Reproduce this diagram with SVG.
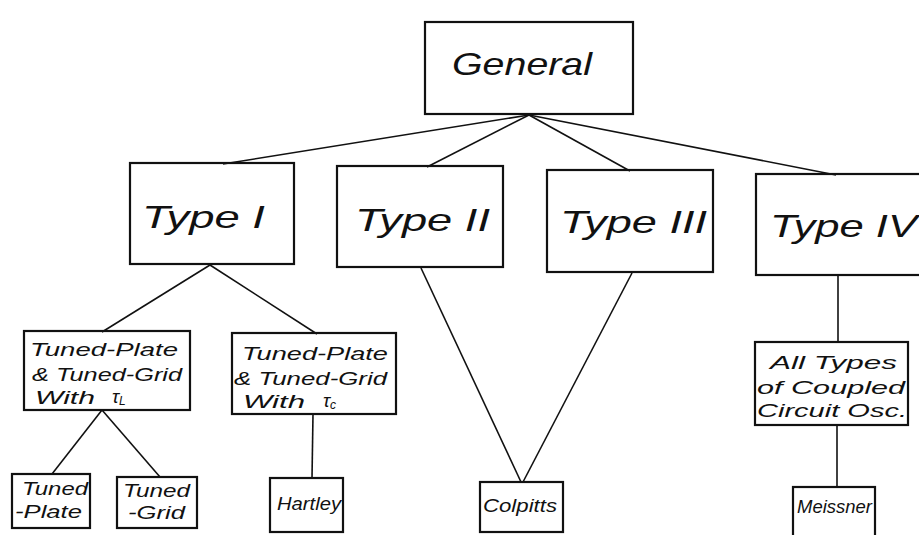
<svg xmlns="http://www.w3.org/2000/svg" width="919" height="535" viewBox="0 0 919 535">
<style>
.bx{fill:none;stroke:#111;stroke-width:2.2}
.ln{fill:none;stroke:#111;stroke-width:1.6}
.t{font-family:"Liberation Sans",Arial,sans-serif;font-style:italic;fill:#111}
.big{font-size:32px}
.md{font-size:19px}
.sm{font-size:18px}
.sub{font-size:12px}
</style>
<rect width="919" height="535" fill="#fff"/>
<g id="connectors">
<line class="ln" x1="529" y1="115" x2="223" y2="164"/>
<line class="ln" x1="529" y1="115" x2="427" y2="167"/>
<line class="ln" x1="529" y1="115" x2="630" y2="171"/>
<line class="ln" x1="529" y1="115" x2="836" y2="175"/>
<line class="ln" x1="210" y1="265" x2="102" y2="332"/>
<line class="ln" x1="210" y1="265" x2="317" y2="334"/>
<line class="ln" x1="421" y1="268" x2="521" y2="482"/>
<line class="ln" x1="632" y1="273" x2="523" y2="482"/>
<line class="ln" x1="838" y1="276" x2="838" y2="342"/>
<line class="ln" x1="102" y1="410" x2="52" y2="474"/>
<line class="ln" x1="102" y1="410" x2="160" y2="477"/>
<line class="ln" x1="313" y1="414" x2="312" y2="478"/>
<line class="ln" x1="837" y1="425" x2="837" y2="487"/>
</g>
<g id="general">
<rect class="bx" x="425" y="22" width="208" height="92"/>
<text class="t big" x="452" y="75" textLength="140" lengthAdjust="spacingAndGlyphs">General</text>
</g>
<g id="type1">
<rect class="bx" x="130" y="163" width="164" height="101"/>
<text class="t big" x="142" y="228" textLength="123" lengthAdjust="spacingAndGlyphs">Type I</text>
</g>
<g id="type2">
<rect class="bx" x="337" y="166" width="166" height="101"/>
<text class="t big" x="355" y="231" textLength="135" lengthAdjust="spacingAndGlyphs">Type II</text>
</g>
<g id="type3">
<rect class="bx" x="547" y="170" width="166" height="102"/>
<text class="t big" x="560" y="233" textLength="147" lengthAdjust="spacingAndGlyphs">Type III</text>
</g>
<g id="type4">
<rect class="bx" x="756" y="174" width="172" height="101"/>
<text class="t big" x="770" y="237" textLength="147" lengthAdjust="spacingAndGlyphs">Type IV</text>
</g>
<g id="tptg-l">
<rect class="bx" x="24" y="331" width="166" height="79"/>
<text class="t md" x="30" y="356" textLength="148" lengthAdjust="spacingAndGlyphs">Tuned-Plate</text>
<text class="t md" x="32" y="381" textLength="150" lengthAdjust="spacingAndGlyphs">&amp; Tuned-Grid</text>
<text class="t md" x="35" y="404" textLength="60" lengthAdjust="spacingAndGlyphs">With</text>
<text class="t md" x="112" y="403">τ<tspan class="sub" dy="2">L</tspan></text>
</g>
<g id="tptg-c">
<rect class="bx" x="232" y="333" width="164" height="81"/>
<text class="t md" x="242" y="360" textLength="146" lengthAdjust="spacingAndGlyphs">Tuned-Plate</text>
<text class="t md" x="234" y="385" textLength="153" lengthAdjust="spacingAndGlyphs">&amp; Tuned-Grid</text>
<text class="t md" x="243" y="408" textLength="62" lengthAdjust="spacingAndGlyphs">With</text>
<text class="t md" x="323" y="407">τ<tspan class="sub" dy="2">c</tspan></text>
</g>
<g id="tuned-plate">
<rect class="bx" x="12" y="474" width="78" height="54"/>
<text class="t sm" x="22" y="495" textLength="66" lengthAdjust="spacingAndGlyphs">Tuned</text>
<text class="t sm" x="15" y="518" textLength="67" lengthAdjust="spacingAndGlyphs">-Plate</text>
</g>
<g id="tuned-grid">
<rect class="bx" x="117" y="477" width="80" height="51"/>
<text class="t sm" x="123" y="497" textLength="67" lengthAdjust="spacingAndGlyphs">Tuned</text>
<text class="t sm" x="128" y="519" textLength="57" lengthAdjust="spacingAndGlyphs">-Grid</text>
</g>
<g id="hartley">
<rect class="bx" x="270" y="478" width="73" height="54"/>
<text class="t sm" x="277" y="510" textLength="64" lengthAdjust="spacingAndGlyphs">Hartley</text>
</g>
<g id="colpitts">
<rect class="bx" x="480" y="482" width="83" height="50"/>
<text class="t sm" x="483" y="512" textLength="74" lengthAdjust="spacingAndGlyphs">Colpitts</text>
</g>
<g id="coupled">
<rect class="bx" x="755" y="342" width="153" height="83"/>
<text class="t md" x="770" y="369" textLength="127" lengthAdjust="spacingAndGlyphs">All Types</text>
<text class="t md" x="757" y="394" textLength="148" lengthAdjust="spacingAndGlyphs">of Coupled</text>
<text class="t md" x="757" y="417" textLength="150" lengthAdjust="spacingAndGlyphs">Circuit Osc.</text>
</g>
<g id="meissner">
<rect class="bx" x="793" y="487" width="82" height="60"/>
<text class="t sm" x="797" y="513" textLength="75" lengthAdjust="spacingAndGlyphs">Meissner</text>
</g>
</svg>
